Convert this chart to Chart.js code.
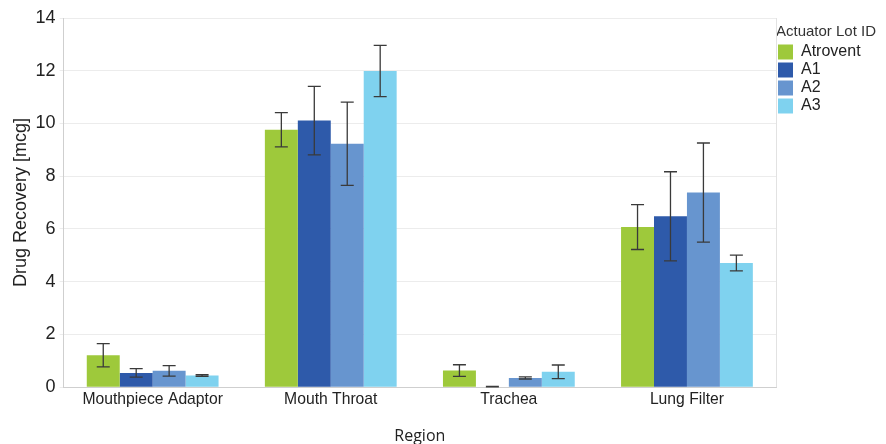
<!DOCTYPE html>
<html>
<head>
<meta charset="utf-8">
<script src="https://cdn.jsdelivr.net/npm/chart.js@4.4.1/dist/chart.umd.min.js"></script>
<style>
  body { margin: 0; background: #fff; }
  #wrap { width: 886px; height: 444px; }
</style>
</head>
<body>
<div id="wrap"><canvas id="recoveryChart" width="886" height="444"></canvas></div>
<script>
// Regions and lots
const regions = ['Mouthpiece Adaptor', 'Mouth Throat', 'Trachea', 'Lung Filter'];
const lots = ['Atrovent', 'A1', 'A2', 'A3'];
const lotColors = ['#9ec93b', '#2e5aaa', '#6795cf', '#7fd2ef'];

// Mean recovery (mcg) per lot, in region order
const atrovent = [1.21, 9.76, 0.63, 6.07];
const a1 = [0.54, 10.11, 0.02, 6.48];
const a2 = [0.62, 9.23, 0.35, 7.38];
const a3 = [0.44, 11.99, 0.58, 4.71];

// Error bar half-widths (mcg)
const atroventErr = [0.44, 0.65, 0.22, 0.85];
const a1Err = [0.16, 1.3, 0.01, 1.69];
const a2Err = [0.2, 1.58, 0.04, 1.88];
const a3Err = [0.03, 0.97, 0.26, 0.3];

const yTicks = [0, 2, 4, 6, 8, 10, 12, 14];

const means = [atrovent, a1, a2, a3];
const errs = [atroventErr, a1Err, a2Err, a3Err];

// legend box is too narrow for its title otherwise (it gets clipped)
const legendWidthPlugin = {
    id: 'legendWidth',
    beforeLayout(chart) {
        const lg = chart.legend;
        if (lg && !lg._widened) {
            const fit = lg.fit.bind(lg);
            lg.fit = function () {
                fit();
                this.width = Math.max(this.width, 110);
            };
            lg._widened = true;
        }
    }
};

// Error bars + right frame line
const errorBarPlugin = {
    id: 'errorBars',
    afterDatasetsDraw(chart) {
        const ctx = chart.ctx;
        const y = chart.scales.y;
        const area = chart.chartArea;
        ctx.save();
        ctx.strokeStyle = '#e2e2e2';
        ctx.lineWidth = 1;
        ctx.beginPath();
        ctx.moveTo(area.right + 0.5, area.top);
        ctx.lineTo(area.right + 0.5, area.bottom);
        ctx.stroke();

        ctx.strokeStyle = '#3a3a3a';
        ctx.lineWidth = 1.3;
        chart.data.datasets.forEach((ds, i) => {
            const meta = chart.getDatasetMeta(i);
            meta.data.forEach((bar, j) => {
                const v = means[i][j];
                const e = errs[i][j];
                const top = y.getPixelForValue(v + e);
                const bot = y.getPixelForValue(Math.max(v - e, 0));
                const x = bar.x;
                ctx.beginPath();
                ctx.moveTo(x, top);
                ctx.lineTo(x, bot);
                ctx.moveTo(x - 6.5, top);
                ctx.lineTo(x + 6.5, top);
                ctx.moveTo(x - 6.5, bot);
                ctx.lineTo(x + 6.5, bot);
                ctx.stroke();
            });
        });
        ctx.restore();
    }
};

const ctx = document.getElementById('recoveryChart').getContext('2d');
new Chart(ctx, {
    type: 'bar',
    data: {
        labels: regions,
        datasets: lots.map((lot, i) => ({
            label: lot,
            data: means[i],
            backgroundColor: lotColors[i],
            borderWidth: 0,
            categoryPercentage: 0.74,
            barPercentage: 1.0
        }))
    },
    options: {
        responsive: false,
        animation: false,
        layout: {
            padding: { top: 18, right: 0, bottom: 0, left: 10 }
        },
        plugins: {
            tooltip: { enabled: false },
            legend: {
                position: 'right',
                align: 'start',
                title: {
                    display: true,
                    position: 'start',
                    text: 'Actuator Lot ID',
                    color: '#333',
                    font: { family: 'Liberation Sans', size: 15 },
                    padding: { top: 6, bottom: 0 }
                },
                labels: {
                    boxWidth: 15,
                    boxHeight: 15,
                    padding: 2,
                    color: '#222',
                    font: { family: 'Liberation Sans', size: 16 }
                }
            }
        },
        scales: {
            x: {
                grid: { display: false, drawTicks: false },
                border: { display: true, color: '#cfcfcf' },
                ticks: {
                    color: '#222',
                    font: { family: 'Liberation Sans', size: 15.7 },
                    padding: 3
                },
                title: {
                    display: true,
                    text: 'Region',
                    color: '#222',
                    font: { family: 'Open Sans', size: 16, lineHeight: 1.0 },
                    padding: { top: 16, bottom: 0 }
                }
            },
            y: {
                min: 0,
                max: 14,
                afterBuildTicks(scale) {
                    scale.ticks = yTicks.map(v => ({ value: v }));
                },
                grid: { color: '#ececec', drawTicks: true, tickLength: 4 },
                border: { display: true, color: '#cfcfcf' },
                ticks: {
                    color: '#222',
                    font: { family: 'Liberation Sans', size: 18 },
                    padding: 4
                },
                title: {
                    display: true,
                    text: 'Drug Recovery [mcg]',
                    color: '#222',
                    font: { family: 'Liberation Sans', size: 18 },
                    padding: { top: 0, bottom: 0 }
                }
            }
        }
    },
    plugins: [legendWidthPlugin, errorBarPlugin]
});
</script>
</body>
</html>
